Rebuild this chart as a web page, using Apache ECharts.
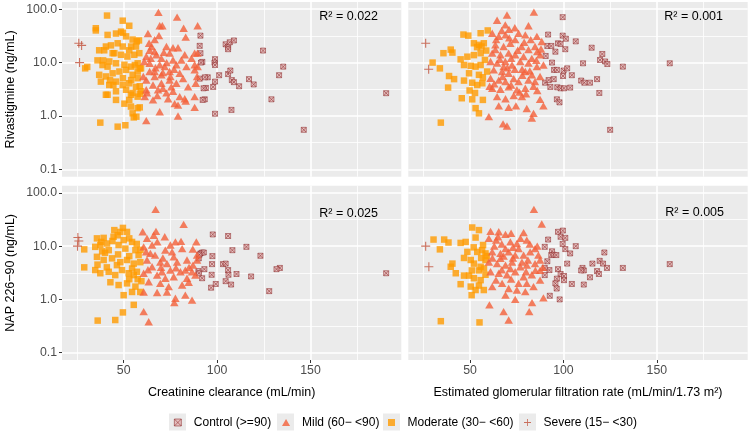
<!DOCTYPE html>
<html><head><meta charset="utf-8">
<script src="https://cdn.jsdelivr.net/npm/echarts@6/dist/echarts.min.js"></script>
<style>html,body{margin:0;padding:0;background:#fff}#c{width:750px;height:436px}</style>
</head><body><div id="c"></div><script>
const groupNames = ['Control (>=90)', 'Mild (60\u2212 <90)', 'Moderate (30\u2212 <60)', 'Severe (15\u2212 <30)'];
const yTitles = ['Rivastigmine (ng/mL)', 'NAP 226\u221290 (ng/mL)'];
const xTitles = ['Creatinine clearance (mL/min)', 'Estimated glomerular filtration rate (mL/min/1.73 m\u00B2)'];
const r2Labels = ['R\u00B2 = 0.022', 'R\u00B2 = 0.001', 'R\u00B2 = 0.025', 'R\u00B2 = 0.005'];
const xTicks = [50, 100, 150];
const xMinor = [25, 75, 125, 175];
const yTicks = [0.1, 1, 10, 100];
const yMinor = [0.316, 3.16, 31.6];

// ---- Top-left: creatinine clearance vs rivastigmine ----
const crclRivaControl = [[91.1,32],[90.7,20.6],[91.1,15],[92.1,10.3],[98.9,11.6],[98.6,10],[98.9,9],[91.4,10],
[104.6,22],[105.9,19.4],[106.8,24],[109,26],[105.9,17.8],[124.6,16.8],[135.4,8.4],[133.2,5.8],
[101.1,5.8],[105.9,6.1],[107.1,7.1],[107.9,4.7],[109,4.3],[111.8,3.6],[117.1,4.9],[119.6,3.9],
[95,5.3],[90.7,5.0],[93.5,5.3],[94,3.35],[92.8,3.3],[97.9,3.5],[98.9,4.4],[93.4,2.05],[92.3,2.0],
[107.7,1.3],[98.9,1.1],[129.1,2.05],[146.4,0.55],[190.5,2.67]];
const crclRivaMild = [[68.6,87],[78.6,71],[69.3,49],[70.7,49],[89.6,49],[82.1,44],[63,35],[68.9,32],[83.2,30],
[63.6,23],[66.6,27],[72.9,20],[76.4,19],[79.1,19],[88,15],[62.1,13],[67.5,14],[74.6,15],[82.7,14],[86.3,12],[89.5,15],[66.6,16],[63.9,17],[70.2,12],[76.4,11.2],[80.9,11.2],
[63.9,9.7],[69.3,9.1],[72,8.4],[78.2,9.1],[83.6,8.4],[88,9.1],[89.6,8.4],
[66.6,6.8],[74.6,6.8],[80,6.3],[88,7.3],[89.3,5.5],[63.9,6.8],[66.6,5.5],[70.2,5.9],[81.8,5.0],
[62.1,4.7],[65.7,3.8],[70.2,4.1],[74.6,4.7],[78.2,4.1],[84.5,3.5],[88.6,4.1],[75.5,3.5],[71,3.3],
[62.1,3.1],[68.4,3.1],[72.9,2.7],[76.4,2.9],[80,2.3],[61.3,2.3],[65.7,2.0],[73.8,2.1],[82.7,2.1],[88,2.3],
[77.3,1.7],[79.1,1.6],[83.2,1.9],[88,1.45],[69.3,1.2],[79.1,1.0],[62.1,0.82],
[61,10.5],[64.5,12],[67,8],[71,6.5],[73,10],[75,5.5],[77,7.5],[60.5,5.5],[62.5,2.7],[68,2.4],[71.5,15.5],[65,20]];
const crclRivaModerate = [[41.1,76],[35.1,44],[35.1,40],[49.5,61],[53,49],[41.4,33],[45.9,35],[48.6,38],[51.3,31],[54.8,27],[57,25],[49.6,36],[58.2,26],
[36.9,17],[40.5,20],[43.2,21],[46.8,23],[49.5,20],[53,17],[56.6,20],[54,20],[39.6,17],
[44.1,15],[48.6,14],[52,13],[55.7,14],[58.4,15],[45,15],
[36,11],[38.7,9],[42.3,10.5],[45.9,9.7],[50.4,9.1],[53.9,8.4],[57.5,9.7],[39,11],[41.4,8.4],[56,9],
[29.4,7.8],[30.5,8.3],[36.9,5.9],[40.5,5.5],[44.1,6.3],[47.7,6.8],[51.3,7.3],[54.8,5.9],[57.5,6.8],[59.3,7.8],[58.6,7.8],
[37.8,4.4],[42.3,3.8],[45.9,4.4],[49.5,3.8],[53,4.1],[56.6,3.5],[59.3,2.9],[42.7,4.7],[49.6,5.1],[54,4.7],[57.5,5.1],[44.5,3.8],[58.6,3.6],
[40.5,2.5],[45.9,2.9],[51.3,3.1],[54.8,2.7],[57.5,2.3],[41.4,2.5],[53.9,2.5],[58.6,2.6],
[45.9,2.0],[50.4,1.7],[53,2.0],[53.9,1.5],[57.5,1.4],[58.6,1.45],[54.8,1.12],[55.4,0.94],[56.8,0.97],
[37.5,0.75],[46.8,0.63],[50.9,0.67]];
const crclRivaSevere = [[26,23],[27.5,21],[26.4,10]];

// ---- Top-right: eGFR vs rivastigmine ----
const egfrRivaControl = [[99.6,71],[91.8,33.5],[99.6,32],[101.3,28],[106.6,25],[115.1,19],[120.8,14.5],[119.6,11.2],[122.3,10.5],[123.5,9.4],[131.8,8.4],[156.9,9.7],
[91.4,20.5],[93.5,20.5],[97.1,23],[98.5,22.4],[95.7,16],[101,17.8],[90.5,13.3],[93.9,10],
[95,7.3],[96.5,7.3],[100.1,7.1],[102,7.8],[99.8,5.6],[104.5,5.8],[110.5,9.7],
[109.5,4.6],[111.2,4.2],[114.2,4.2],[118,4.9],[119.2,2.7],
[90.2,4.2],[92.1,4.7],[94.8,4.9],[93,3.5],[96.7,3.45],[98.5,3.3],[100.3,3.3],[103.6,3.4],
[96.5,2.05],[97.9,1.8],[125,0.55]];
const egfrRivaMild = [[69.8,78],[84.2,88],[64.5,62],[68.9,51],[81.3,49],[70.9,42],[61.9,35.5],[65.4,31],[69,33],[74.2,27],[79.6,33],[85.8,31],[88.4,24.8],[76,35.5],
[63.6,21.5],[68,20],[71.6,23],[77.6,20],[81.3,17.5],[84.8,20],[63.6,17.5],
[61.9,15],[66.3,14],[70.7,15],[74.2,14],[78.7,13],[83.1,12],[87.5,14],
[61,10.5],[64.5,9.8],[68.9,10.5],[72.5,9],[76.9,10.5],[81.3,9.8],[85.8,8.4],[89.3,9],[68,8.4],[77.9,7.5],
[62.7,7.3],[67.2,6.8],[70.7,6.3],[79.6,6.8],[83.1,5.9],[87.5,5.5],[73.4,5.0],
[61,5.1],[65.4,4.7],[69,4.4],[76,4.4],[81.3,4.7],[84.8,4.4],
[61.9,3.3],[66.3,3.16],[70.7,3.5],[75.1,3.1],[79.6,3.3],[84,3.6],[60.5,3.6],
[64.5,2.3],[69,2.1],[73.4,2.4],[77.8,2.3],[87.5,2.05],
[89.3,1.55],[65.4,1.55],[70.7,1.45],[74.6,1.55],[80.4,1.38],[84,1.12],[60.1,0.97],[83.1,0.91],[67.7,0.71],[69.8,0.65],
[72,12],[75.5,17],[79,24],[82.5,27],[86,16],[66,11.5],[70,8],[74,7.5],[78,5.8],[82,7],[85.5,11],[63,4],[67.5,5.5],[72,3.8],[76.5,2.8],[80,2.6],[86,3],[71,29],[67,40],[74,45],[64,27],[88,18]];
const egfrRivaModerate = [[46.5,33.5],[49.1,32],[55.7,35.5],[59.5,40],[52.1,23],[54.8,21.5],[57.4,23],[53.8,19.5],[56.2,20],[58.7,16.8],
[35.8,15],[39.7,17.5],[40.6,15.4],[45,11.5],[48.6,12.9],[52.1,13.8],[55.7,15],[58,11.2],
[30,10],[33.9,7.8],[38.8,5.6],[41.5,4.9],[46.8,9],[50.4,8.7],[53,8.4],[55.7,9],[59.2,6.8],
[49.5,6.3],[54.8,5.9],[56.9,5.3],[46.8,4.6],[51.2,4.2],[53.9,3.8],[56.6,4.1],
[38.3,3.4],[49.8,3.0],[52.7,2.7],[45.6,2.15],[51.2,2.05],[56.9,2.0],[53,1.4],[54.8,1.12],[34.4,0.75]];
const egfrRivaSevere = [[26.3,23],[27.9,7.5]];

// ---- Bottom-left: creatinine clearance vs NAP 226-90 ----
const crclNapControl = [[97.7,16.6],[105.9,15.5],[108.2,8.4],[115.7,9.7],[123.2,6.6],[133.6,3.9],[131.8,3.7],
[90.2,5.9],[91.1,7.3],[92,7.6],[92.9,7.6],[90.5,6.9],[97.5,6.5],
[93.2,3.7],[92,2.5],[90,3.4],[90.3,3.1],[97.3,4.6],[97.1,2.9],
[103.2,4.6],[104.6,4.7],[105.9,3.55],[106.1,2.9],[110.4,3.0],[118.2,2.7],
[104.6,2.2],[107.5,1.9],[96.8,1.66],[99.3,1.95],[127.9,1.43],[190.5,3.1]];
const crclNapMild = [[67.1,49],[82.1,25.7],[67.3,19],[60.2,18.6],[72,15],[62.5,14],[77.7,12],[80.7,12.3],[88.9,12],[66.1,16],
[60.7,9.7],[65.2,10.5],[72.3,8.4],[75.9,7.8],[81.3,9],[75,10.5],[64.3,7.3],
[66.8,6.8],[62.5,5.5],[69.6,5.0],[73.2,4.7],[78.6,5.0],[83.9,5.5],[87.1,4.4],[89.3,5.5],[76.8,6.3],[89.3,6.8],
[65.2,4.1],[75,3.55],[80.4,3.3],[86.6,3.3],[70.5,3.3],[83,3.55],
[60.7,3.1],[67.9,2.86],[72.3,2.5],[76.8,2.66],[83.9,2.5],[88.4,2.86],
[63.4,2.15],[69.6,2.0],[74.1,1.74],[81.3,1.86],[84.8,2.1],
[60.7,1.38],[67.9,1.35],[73.2,1.38],[77.7,1.05],[83,1.2],[86.6,0.97],[77.1,0.87],[60.7,0.59],[63.4,0.38],
[62,7.8],[68,12],[70,4],[78,3.9],[85,4],[63,3.6],[71,6],[87,8.8]];
const crclNapModerate = [[28.9,8.7],[28.9,4.0],[49.6,22],[48.2,18.5],[46.8,16],[51.8,18.5],[35.7,14],[39.3,14.3],[44.6,15],
[54.5,12],[56.3,8.4],[34.8,9.7],[37.5,10.5],[42,8.4],[47.3,10.5],[50.9,9],[58,6.8],[41.1,11.2],
[35.7,6.3],[39.3,5.5],[43.8,5.9],[48.2,5.0],[51.8,5.5],[55.4,4.7],[58.9,5.0],
[34.8,3.55],[37.5,3.1],[42,3.3],[45.5,2.86],[49.1,3.55],[52.7,3.1],[57.1,3.3],[55.4,2.86],[54.5,3.8],[46.4,4.4],
[42.9,2.1],[47.3,1.86],[51.8,2.0],[56.3,1.74],[58.9,1.38],[50,1.2],[54.5,1.38],
[55.4,0.79],[49.6,0.57],[36.1,0.4],[45.5,0.41],
[38,12],[40,7.5],[44,12.5],[53,14],[57,11],[59,8.5],[36,4.5],[41,4],[47,7],[53,6.5],[57.5,2.4],[59.5,2.2],[53,2.4],[38.5,8],[45,20],[50,13]];
const crclNapSevere = [[25.5,14.5],[26,12.5],[25.3,10]];

// ---- Bottom-right: eGFR vs NAP 226-90 ----
const egfrNapControl = [[97.1,18.6],[99.7,19.6],[98.5,15],[101,14.3],[91.8,13.3],[99.6,11],[106.6,10],[90,9.7],[101,8.8],[103.6,7.3],
[93.9,8],[93.5,6.8],[94.8,6.9],[96.2,6.8],[121.9,7.6],[119.4,5.3],[121.2,4.7],[123.3,3.9],[131.8,3.9],[156.9,4.6],
[115.5,4.7],[110.2,3.9],[110.9,3.5],[118,3.4],[119,3.0],[114.2,2.6],[110.9,1.9],[104.5,1.95],[102,4.7],
[91.4,5.2],[92.5,3.55],[90,3.9],[90,2.86],[97.1,3.7],[98.5,3.0],[100.3,2.75],[100.3,2.3],[96.5,2.45],[95.7,2.0],
[92.7,1.17],[98,1.0],[96.4,1.6],[109.5,3.5]];
const egfrNapMild = [[84.2,49],[88.4,26],[61,19],[65.4,18.6],[69,16.6],[78.7,18],[60.1,14],[64,13],[71.6,12],[75.1,11.2],[80.4,13],[84.8,9],
[61.9,7.8],[66.3,7.3],[70.7,7.8],[74.2,6.8],[78.7,6.8],[82.2,7.8],[86.6,6.8],[69,9],[76,9],
[60.1,5.0],[64.5,4.7],[69,4.4],[72.5,5.0],[76.9,4.1],[80.4,4.4],[84.8,4.7],[87.5,5.5],[66.3,5.9],[77.8,5.0],[71.6,3.8],[87.5,3.5],
[61,3.3],[65.4,3.1],[69.8,2.9],[74.2,3.3],[78.7,2.66],[83.1,2.9],[87.5,2.3],[63.9,2.3],[80.4,2.0],
[61.9,1.74],[67.2,2.0],[70.7,1.6],[75.1,1.5],[79.6,1.4],[84,1.74],[89.3,1.07],[74.2,1.0],[69,1.2],
[83.2,0.87],[60.4,0.79],[68,0.59],[81.7,0.59],[70.7,0.41],
[63,10],[67,11],[73,9.5],[77,14],[82,11],[86,10],[62,6],[68,6.5],[73,6],[81,5.5],[85,3.5],[67,3.6],[72,2.4],[76,2],[80,3.3],[89,4],[65,15],[72,17.5]];
const egfrNapModerate = [[30.5,13.3],[36.2,13.3],[38.5,11.7],[33.9,8.7],[51.2,22.4],[54.8,20],[53,14.5],[45,11.5],[47.7,12],
[56.5,8.4],[53.9,7.8],[48.6,7.8],[58.3,7.3],[46.8,6.0],[50.4,5.5],[40.6,4.7],[39.7,4.1],[42.4,3.1],
[52.1,4.7],[55.7,4.1],[58.3,5.5],[54.8,3.5],[46.8,2.8],[49.5,2.8],[52.1,2.5],[55.7,2.3],[58.3,2.9],
[45,1.93],[50.4,1.74],[54.8,1.82],[53,1.5],[50.9,1.2],[57.4,1.5],[34.4,0.39],[55.1,0.37],
[57,10.5],[52,9.5],[59,6.5],[56,6],[51,3.5],[57.5,3.8]];
const egfrNapSevere = [[26.3,10],[28,4.1]];

const panelData = [
  [crclRivaControl, crclRivaMild, crclRivaModerate, crclRivaSevere],
  [egfrRivaControl, egfrRivaMild, egfrRivaModerate, egfrRivaSevere],
  [crclNapControl, crclNapMild, crclNapModerate, crclNapSevere],
  [egfrNapControl, egfrNapMild, egfrNapModerate, egfrNapSevere]
];

const groupStyles = [
  {symbol: 'path://M0,0L10,0L10,10L0,10Z M0,0L10,10 M10,0L0,10', size: 5, itemStyle: {color: '#E2B4B4', borderColor: '#8E2A2A', borderWidth: 0.7}},
  {symbol: 'path://M5,0L10,8.66L0,8.66Z', size: 8.5, itemStyle: {color: '#F4603A'}},
  {symbol: 'path://M0,0L10,0L10,10L0,10Z', size: 6.5, itemStyle: {color: '#FF9B00'}},
  {symbol: 'path://M4.4,0L5.6,0L5.6,4.4L10,4.4L10,5.6L5.6,5.6L5.6,10L4.4,10L4.4,5.6L0,5.6L0,4.4L4.4,4.4Z', size: 9, itemStyle: {color: '#C0503A'}}
];
const drawOrder = [0, 2, 1, 3];

const grids = [
  {left: 62, top: 2, width: 339.3, height: 174.7},
  {left: 408.3, top: 2, width: 339.4, height: 174.7},
  {left: 62, top: 185.7, width: 339.3, height: 174.3},
  {left: 408.3, top: 185.7, width: 339.4, height: 174.3}
].map(g => Object.assign({show: true, backgroundColor: '#EBEBEB', borderWidth: 0, containLabel: false}, g));

const xAxes = [0,1,2,3].map(i => {
  const bottom = i >= 2;
  return {
    type: 'value', gridIndex: i, min: 17, max: 198.6, splitNumber: 4,
    axisLine: {show: false}, splitLine: {show: false},
    axisTick: {show: bottom, length: 3, lineStyle: {color: '#333333', width: 1}, customValues: xTicks},
    axisLabel: {show: bottom, customValues: xTicks, color: '#4D4D4D', fontSize: 12.3, margin: 5},
    name: bottom ? xTitles[i - 2] : '', nameLocation: 'middle', nameGap: 26,
    nameTextStyle: {color: '#000', fontSize: 12.5}
  };
});
const yAxes = [0,1,2,3].map(i => {
  const left = i % 2 === 0;
  return {
    type: 'log', logBase: 10, gridIndex: i, min: 0.0728, max: 136.5,
    axisLine: {show: false}, splitLine: {show: false},
    axisTick: {show: left, length: 3, lineStyle: {color: '#333333', width: 1}, customValues: yTicks},
    axisLabel: {show: left, customValues: yTicks, color: '#4D4D4D', fontSize: 12.3, margin: 5,
      formatter: v => Number(v).toFixed(1)},
    name: left ? yTitles[i / 2] : '', nameLocation: 'middle', nameGap: 45,
    nameTextStyle: {color: '#000', fontSize: 12.5}
  };
});

function gridLines() {
  const major = {color: '#FFFFFF', width: 1.6, type: 'solid'};
  const minor = {color: '#FFFFFF', width: 0.8, type: 'solid'};
  return [].concat(
    xTicks.map(v => ({xAxis: v, lineStyle: major})),
    xMinor.map(v => ({xAxis: v, lineStyle: minor})),
    yTicks.map(v => ({yAxis: v, lineStyle: major})),
    yMinor.map(v => ({yAxis: v, lineStyle: minor}))
  );
}

const series = [];
panelData.forEach((groups, p) => {
  drawOrder.forEach((g, k) => {
    const st = groupStyles[g];
    const s = {
      type: 'scatter', name: groupNames[g], xAxisIndex: p, yAxisIndex: p,
      data: groups[g], symbol: st.symbol, symbolSize: st.size, symbolKeepAspect: true,
      itemStyle: st.itemStyle, emphasis: {disabled: true}, z: 3 + k
    };
    if (k === 0) {
      s.markLine = {silent: true, z: 1, symbol: ['none', 'none'], animation: false,
        label: {show: false}, emphasis: {disabled: true}, data: gridLines()};
    }
    series.push(s);
  });
});

const legendKeyLeft = [169, 277, 383, 519];
const legends = groupNames.map((n, i) => ({
  data: [n], left: legendKeyLeft[i] + 5, top: 416.5, orient: 'horizontal', padding: 0,
  itemWidth: 22, itemHeight: 7, symbolKeepAspect: true, selectedMode: false,
  itemStyle: {borderWidth: i === 0 ? 0.7 : 0},
  textStyle: {fontSize: 12, color: '#000'}
}));

const graphics = legendKeyLeft.map(x => ({
  type: 'rect', left: x, top: 413.5, z: -10, silent: true,
  shape: {width: 17, height: 17}, style: {fill: '#EBEBEB'}
}));
const r2Pos = [[372, 10], [27, 10], [372, 207], [26, 206]];
r2Labels.forEach((t, i) => {
  graphics.push({type: 'text', right: r2Pos[i][0], top: r2Pos[i][1], silent: true, z: 10,
    style: {text: t, font: '12.5px "Liberation Sans", Arial, sans-serif', fill: '#000'}});
});

const chart = echarts.init(document.getElementById('c'), null, {renderer: 'canvas'});
chart.setOption({
  animation: false,
  backgroundColor: '#FFFFFF',
  textStyle: {fontFamily: '"Liberation Sans", Arial, sans-serif'},
  grid: grids, xAxis: xAxes, yAxis: yAxes,
  legend: legends, graphic: graphics, series: series
});
</script></body></html>
